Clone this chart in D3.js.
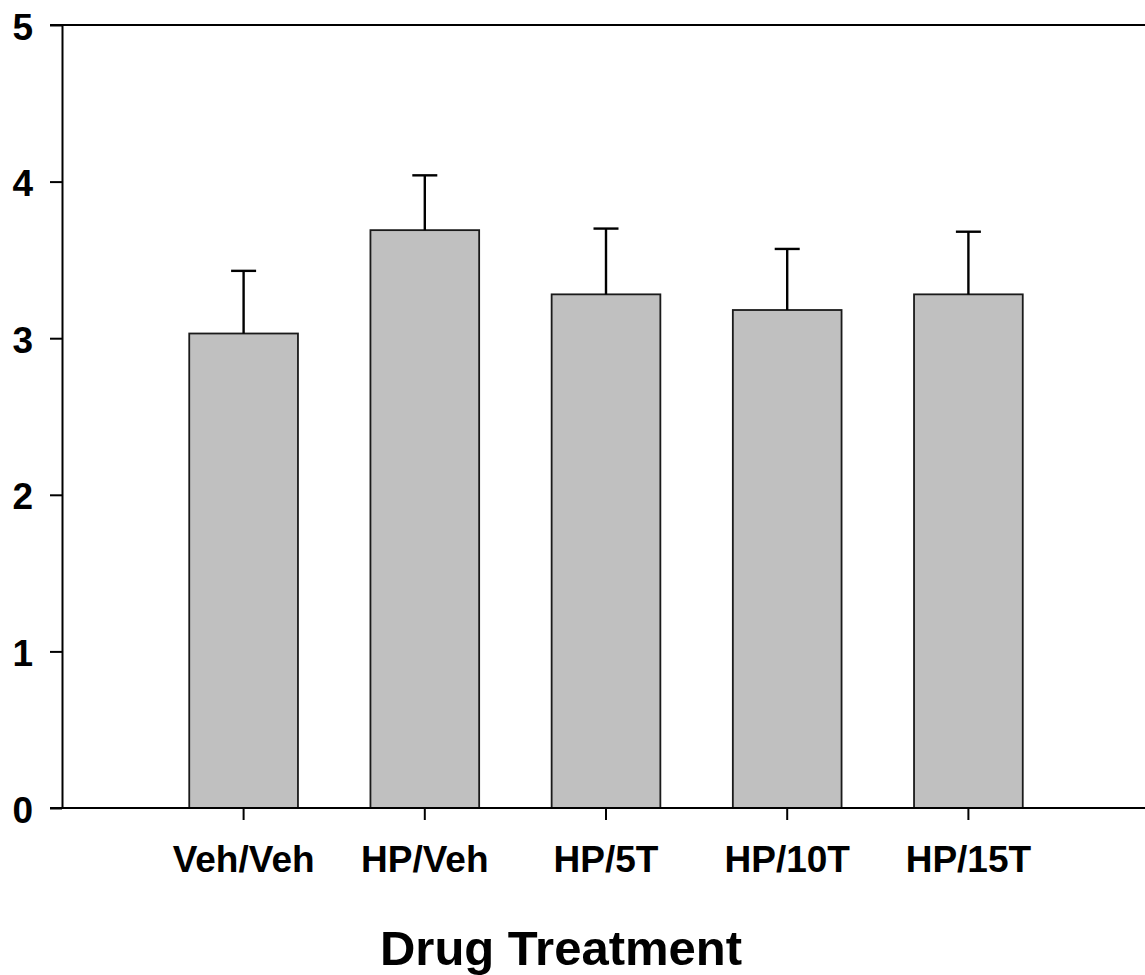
<!DOCTYPE html>
<html>
<head>
<meta charset="utf-8">
<script src="https://cdn.jsdelivr.net/npm/d3@7"></script>
<style>
  html, body { margin: 0; padding: 0; background: #fff; }
  svg { display: block; }
  text { font-family: "Liberation Sans", Arial, sans-serif; font-weight: bold; fill: #000; }
</style>
</head>
<body>
<svg id="chart" width="1145" height="975"></svg>
<script>
const categories = ["Veh/Veh", "HP/Veh", "HP/5T", "HP/10T", "HP/15T"];
const means = [3.03, 3.69, 3.28, 3.18, 3.28];
const errors = [0.40, 0.35, 0.42, 0.39, 0.40];
const yTicks = [0, 1, 2, 3, 4, 5];
const xTitle = "Drug Treatment";

const svg = d3.select("#chart");
const W = 1145;
const axisLeftX = 62, plotTop = 25, plotBottom = 808;

const y = d3.scaleLinear().domain([0, 5]).range([plotBottom, plotTop]);
const x = d3.scaleBand().domain(categories).range([153, 1059]).paddingInner(0.4).paddingOuter(0.2);

// Top frame line
svg.append("line").attr("x1", 50).attr("x2", W).attr("y1", y(5)).attr("y2", y(5))
  .attr("stroke", "#000").attr("stroke-width", 2);

// Bars
svg.append("g").selectAll("rect").data(categories).join("rect")
  .attr("x", d => x(d))
  .attr("y", (d, i) => y(means[i]))
  .attr("width", x.bandwidth())
  .attr("height", (d, i) => y(0) - y(means[i]))
  .attr("fill", "#c0c0c0")
  .attr("stroke", "#1a1a1a")
  .attr("stroke-width", 1.8);

// Error bars (upper only)
const eg = svg.append("g").attr("stroke", "#000").attr("stroke-width", 2.4);
categories.forEach((c, i) => {
  const cx = x(c) + x.bandwidth() / 2;
  eg.append("line").attr("x1", cx).attr("x2", cx)
    .attr("y1", y(means[i])).attr("y2", y(means[i] + errors[i]));
  eg.append("line").attr("x1", cx - 12.5).attr("x2", cx + 12.5)
    .attr("y1", y(means[i] + errors[i])).attr("y2", y(means[i] + errors[i]));
});

// Y axis
const yAxis = svg.append("g").attr("transform", `translate(${axisLeftX},0)`)
  .call(d3.axisLeft(y).tickValues(yTicks).tickFormat(d3.format("d")).tickSize(12).tickSizeOuter(0));
yAxis.select(".domain").attr("stroke", "#000").attr("stroke-width", 2);
yAxis.selectAll(".tick line").attr("stroke", "#000").attr("stroke-width", 2);
yAxis.selectAll(".tick text")
  .attr("x", -29).attr("dy", null).attr("y", 14)
  .style("font-size", "37px").style("font-family", "'Liberation Sans', Arial, sans-serif")
  .style("font-weight", "bold").attr("fill", "#000");

// X axis
const xAxis = svg.append("g").attr("transform", `translate(0,${plotBottom})`)
  .call(d3.axisBottom(x).tickSize(12).tickSizeOuter(0));
xAxis.select(".domain").remove();
xAxis.selectAll(".tick line").attr("stroke", "#000").attr("stroke-width", 2);
xAxis.selectAll(".tick text")
  .attr("y", 64).attr("dy", null)
  .style("font-size", "37px").style("font-family", "'Liberation Sans', Arial, sans-serif")
  .style("font-weight", "bold").attr("fill", "#000");
svg.append("line").attr("x1", 50).attr("x2", W).attr("y1", y(0)).attr("y2", y(0))
  .attr("stroke", "#000").attr("stroke-width", 2);

// X title
svg.append("text").attr("x", 561).attr("y", 965).attr("text-anchor", "middle")
  .style("font-size", "49px").text(xTitle);
</script>
</body>
</html>
